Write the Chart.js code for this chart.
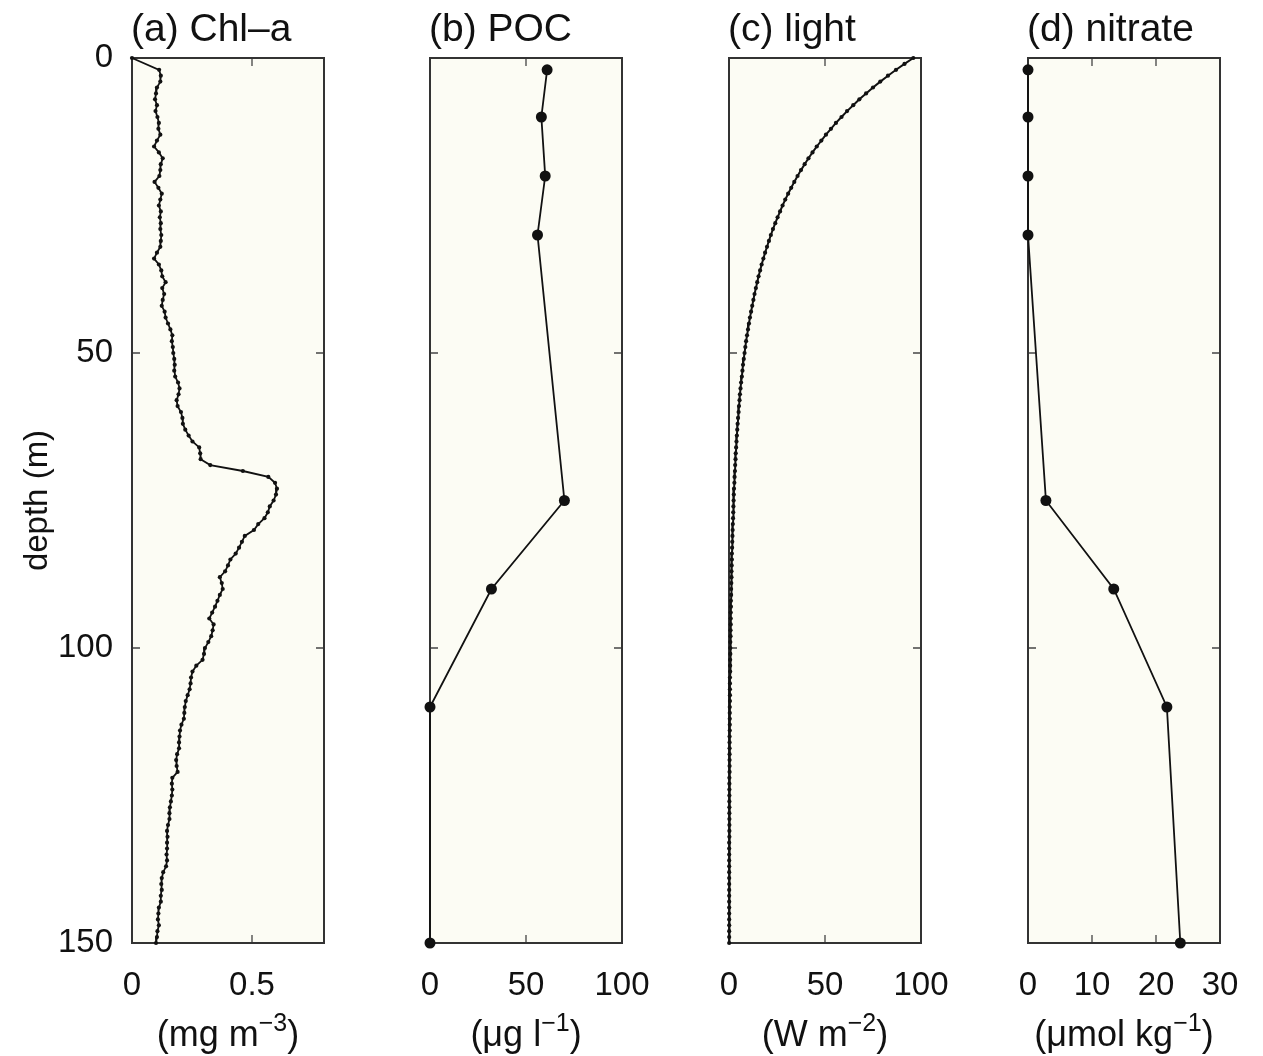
<!DOCTYPE html>
<html>
<head>
<meta charset="utf-8">
<script src="https://cdn.jsdelivr.net/npm/chart.js@4.4.0/dist/chart.umd.min.js"></script>
<style>
  html, body { margin: 0; padding: 0; background: #fff; }
  #wrap { position: relative; width: 1263px; height: 1056px; }
  #wrap canvas { position: absolute; left: 0; top: 0; }
</style>
</head>
<body>
<div id="wrap">
  <canvas id="panelA" width="1263" height="1056"></canvas>
  <canvas id="panelB" width="1263" height="1056"></canvas>
  <canvas id="panelC" width="1263" height="1056"></canvas>
  <canvas id="panelD" width="1263" height="1056"></canvas>
</div>
<script>
// depth axis (shared)
const depthTicks = [0, 50, 100, 150];

// (a) Chl-a profile, mg m^-3 (surface point, then 2..150 m every metre)
const chlDepth = [0].concat(Array.from({length: 149}, (_, i) => i + 2));
const chlValue = [
  0.000,
  0.113, 0.120, 0.118, 0.104, 0.100, 0.096, 0.104, 0.098, 0.106,
  0.112, 0.110, 0.118, 0.104, 0.092, 0.112, 0.128, 0.120, 0.118, 0.114,
  0.094, 0.110, 0.124, 0.118, 0.112, 0.120, 0.116, 0.120, 0.118, 0.122,
  0.120, 0.118, 0.104, 0.092, 0.112, 0.122, 0.126, 0.140, 0.126, 0.134,
  0.128, 0.124, 0.136, 0.140, 0.150, 0.160, 0.168, 0.166, 0.170, 0.172,
  0.176, 0.178, 0.176, 0.180, 0.192, 0.198, 0.194, 0.186, 0.190, 0.204,
  0.210, 0.212, 0.222, 0.236, 0.252, 0.280, 0.284, 0.286, 0.326, 0.462,
  0.568, 0.596, 0.604, 0.600, 0.590, 0.574, 0.566, 0.552, 0.526, 0.508,
  0.470, 0.458, 0.446, 0.432, 0.410, 0.400, 0.388, 0.366, 0.374, 0.378,
  0.366, 0.356, 0.346, 0.334, 0.322, 0.340, 0.336, 0.330, 0.318, 0.304,
  0.300, 0.294, 0.268, 0.252, 0.246, 0.244, 0.240, 0.232, 0.224, 0.220,
  0.218, 0.216, 0.206, 0.200, 0.198, 0.196, 0.196, 0.188, 0.184, 0.186,
  0.190, 0.168, 0.166, 0.168, 0.166, 0.162, 0.158, 0.156, 0.156, 0.150,
  0.146, 0.148, 0.146, 0.146, 0.144, 0.146, 0.142, 0.130, 0.124, 0.122,
  0.124, 0.120, 0.120, 0.112, 0.110, 0.108, 0.112, 0.106, 0.104, 0.100
];
const chlTicks = [0, 0.5];

// (b) POC, ug l^-1
const pocDepth = [2, 10, 20, 30, 75, 90, 110, 150];
const pocValue = [61, 58, 60, 56, 70, 32, 0, 0];
const pocTicks = [0, 50, 100];

// (c) light, W m^-2 (every metre)
const lightDepth = Array.from({length: 151}, (_, i) => i);
const lightValue = [
  96.0, 91.4, 87.0, 82.8, 78.8, 75.0, 71.4, 67.9, 64.7, 61.5, 58.6,
  55.7, 53.1, 50.5, 48.1, 45.7, 43.5, 41.4, 39.4, 37.5, 35.7,
  34.0, 32.4, 30.8, 29.3, 27.9, 26.6, 25.3, 24.1, 22.9, 21.8,
  20.8, 19.8, 18.8, 17.9, 17.0, 16.2, 15.4, 14.7, 14.0, 13.3,
  12.7, 12.1, 11.5, 10.9, 10.4, 9.9, 9.4, 8.9, 8.5, 8.1,
  7.7, 7.3, 7.0, 6.7, 6.3, 6.0, 5.7, 5.5, 5.2, 5.0,
  4.7, 4.5, 4.3, 4.1, 3.9, 3.7, 3.5, 3.4, 3.2, 3.1,
  2.9, 2.8, 2.6, 2.5, 2.4, 2.3, 2.2, 2.1, 2.0, 1.9,
  1.8, 1.7, 1.6, 1.5, 1.5, 1.4, 1.3, 1.3, 1.2, 1.1,
  1.1, 1.0, 1.0, 0.9, 0.9, 0.9, 0.8, 0.8, 0.7, 0.7,
  0.7, 0.6, 0.6, 0.6, 0.5, 0.5, 0.5, 0.5, 0.5, 0.4,
  0.4, 0.4, 0.4, 0.4, 0.3, 0.3, 0.3, 0.3, 0.3, 0.3,
  0.3, 0.2, 0.2, 0.2, 0.2, 0.2, 0.2, 0.2, 0.2, 0.2,
  0.2, 0.2, 0.1, 0.1, 0.1, 0.1, 0.1, 0.1, 0.1, 0.1,
  0.1, 0.1, 0.1, 0.1, 0.1, 0.1, 0.1, 0.1, 0.1, 0.1
];
const lightTicks = [0, 50, 100];

// (d) nitrate, umol kg^-1
const no3Depth = [2, 10, 20, 30, 75, 90, 110, 150];
const no3Value = [0, 0, 0, 0, 2.8, 13.4, 21.7, 23.8];
const no3Ticks = [0, 10, 20, 30];

const W = 1263, H = 1056;
const TOP = 58, BOTTOM = 943, PW = 192, XH = 70;
const FONT = '"Liberation Sans", Arial, Helvetica, sans-serif';
const INK = '#111';

// background, box with inward ticks, panel title and unit label
const framePlugin = {
  id: 'frame',
  beforeDatasetsDraw(chart, args, opts) {
    const {ctx, chartArea: a, scales: {x, y}} = chart;
    ctx.save();
    ctx.fillStyle = '#fcfcf4';
    ctx.fillRect(a.left, a.top, a.right - a.left, a.bottom - a.top);
    ctx.strokeStyle = '#444';
    ctx.lineWidth = 1.3;
    ctx.beginPath();
    opts.xTicks.forEach(v => {
      const px = x.getPixelForValue(v);
      ctx.moveTo(px, a.bottom); ctx.lineTo(px, a.bottom - 8);
      ctx.moveTo(px, a.top); ctx.lineTo(px, a.top + 8);
    });
    depthTicks.forEach(v => {
      const py = y.getPixelForValue(v);
      ctx.moveTo(a.left, py); ctx.lineTo(a.left + 8, py);
      ctx.moveTo(a.right, py); ctx.lineTo(a.right - 8, py);
    });
    ctx.stroke();
    ctx.strokeStyle = '#333';
    ctx.lineWidth = 2;
    ctx.strokeRect(a.left, a.top, a.right - a.left, a.bottom - a.top);
    ctx.restore();
  },
  afterDraw(chart, args, opts) {
    const {ctx, chartArea: a} = chart;
    ctx.save();
    ctx.fillStyle = INK;
    ctx.textAlign = 'left';
    ctx.textBaseline = 'alphabetic';
    ctx.font = '39px ' + FONT;
    ctx.fillText(opts.title, a.left - 1, 41);

    // unit label with superscript
    const big = '36px ' + FONT, small = '25px ' + FONT;
    ctx.font = big;
    const w1 = ctx.measureText(opts.unit).width;
    const w3 = ctx.measureText(')').width;
    ctx.font = small;
    const w2 = ctx.measureText(opts.sup).width;
    let xx = (a.left + a.right) / 2 - (w1 + w2 + w3) / 2;
    const base = 1046;
    ctx.font = big;
    ctx.fillText(opts.unit, xx, base);
    xx += w1;
    ctx.font = small;
    ctx.fillText(opts.sup, xx, base - 15);
    xx += w2;
    ctx.font = big;
    ctx.fillText(')', xx, base);
    ctx.restore();
  }
};

function makePanel(id, o) {
  const pts = o.xs.map((v, i) => ({x: v, y: o.ys[i]}));
  return new Chart(document.getElementById(id), {
    type: 'scatter',
    data: {
      datasets: [{
        data: pts,
        showLine: true,
        borderColor: INK,
        backgroundColor: INK,
        borderWidth: o.lw,
        pointRadius: o.pr,
        pointHoverRadius: o.pr,
        pointBorderWidth: 0,
        clip: false
      }]
    },
    options: {
      responsive: false,
      animation: false,
      events: [],
      layout: {
        padding: {left: o.left - o.yw, right: W - o.left - PW, top: TOP, bottom: H - BOTTOM - XH}
      },
      plugins: {
        legend: {display: false},
        tooltip: {enabled: false},
        frame: {title: o.title, unit: o.unit, sup: o.sup, xTicks: o.xTicks}
      },
      scales: {
        x: {
          type: 'linear', min: 0, max: o.xmax,
          afterBuildTicks: s => { s.ticks = o.xTicks.map(v => ({value: v})); },
          afterFit: s => { s.height = XH; },
          grid: {display: false, drawTicks: false},
          border: {display: false},
          ticks: {padding: 23, maxRotation: 0, color: INK, font: {size: 33, family: FONT}, callback: v => String(v)}
        },
        y: {
          type: 'linear', reverse: true, min: 0, max: 150,
          afterBuildTicks: s => { s.ticks = depthTicks.map(v => ({value: v})); },
          afterFit: s => { s.width = o.yw; },
          grid: {display: false, drawTicks: false},
          border: {display: false},
          ticks: {display: o.yLabels, padding: 19, color: INK, font: {size: 33, family: FONT}, callback: v => String(v)},
          title: {display: o.yLabels, text: 'depth (m)', color: INK, font: {size: 33, family: FONT}, padding: {top: 18}}
        }
      }
    },
    plugins: [framePlugin]
  });
}

makePanel('panelA', {xs: chlValue, ys: chlDepth, left: 132, yw: 132, xmax: 0.8, xTicks: chlTicks,
  lw: 1.8, pr: 2.1, yLabels: true, title: '(a) Chl\u2013a', unit: '(mg m', sup: '\u22123'});
makePanel('panelB', {xs: pocValue, ys: pocDepth, left: 430, yw: 0, xmax: 100, xTicks: pocTicks,
  lw: 1.8, pr: 5.5, yLabels: false, title: '(b) POC', unit: '(\u03bcg l', sup: '\u22121'});
makePanel('panelC', {xs: lightValue, ys: lightDepth, left: 729, yw: 0, xmax: 100, xTicks: lightTicks,
  lw: 2, pr: 2.1, yLabels: false, title: '(c) light', unit: '(W m', sup: '\u22122'});
makePanel('panelD', {xs: no3Value, ys: no3Depth, left: 1028, yw: 0, xmax: 30, xTicks: no3Ticks,
  lw: 1.8, pr: 5.5, yLabels: false, title: '(d) nitrate', unit: '(\u03bcmol kg', sup: '\u22121'});
</script>
</body>
</html>
